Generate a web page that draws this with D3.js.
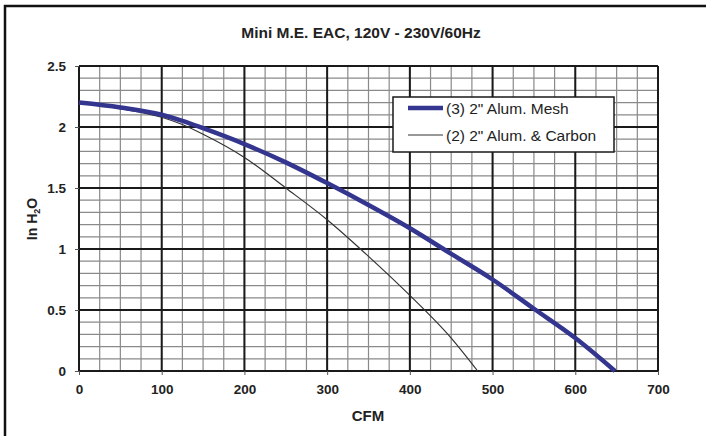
<!DOCTYPE html>
<html>
<head>
<meta charset="utf-8">
<script src="https://cdn.jsdelivr.net/npm/d3@7"></script>
<style>
  body { margin: 0; background: #fff; }
  svg { display: block; font-family: "Liberation Sans", Arial, sans-serif; }
</style>
</head>
<body>
<div id="chart"></div>
<script>
// Donnees
var titre = "Mini M.E. EAC, 120V - 230V/60Hz";
var nomsSeries = ["(3) 2\" Alum. Mesh", "(2) 2\" Alum. & Carbon"];
var cfmMesh   = [0, 50, 100, 125, 150, 200, 250, 300, 350, 400, 450, 500, 550, 600, 648];
var pressMesh = [2.2, 2.16, 2.1, 2.05, 1.99, 1.86, 1.71, 1.54, 1.36, 1.17, 0.96, 0.75, 0.51, 0.27, 0];
var cfmCarbon   = [0, 50, 100, 125, 150, 200, 250, 300, 350, 400, 450, 482];
var pressCarbon = [2.2, 2.15, 2.08, 2.02, 1.94, 1.75, 1.5, 1.24, 0.94, 0.62, 0.27, 0];
var xTicks = [0, 100, 200, 300, 400, 500, 600, 700];
var yTicks = [0, 0.5, 1, 1.5, 2, 2.5];

var W = 706, H = 436;
var margin = {top: 66, right: 48, bottom: 65, left: 79},
    width = W - margin.left - margin.right,
    height = H - margin.top - margin.bottom;

var svgRoot = d3.select("#chart")
  .append("svg")
    .attr("width", W)
    .attr("height", H);

// cadre exterieur
svgRoot.append("rect")
    .attr("x", 5).attr("y", 6)
    .attr("width", W + 10).attr("height", H + 10)
    .attr("fill", "none")
    .attr("stroke", "#111")
    .attr("stroke-width", 2.5);

svgRoot.append("text")
    .attr("x", 361).attr("y", 38)
    .attr("text-anchor", "middle")
    .style("font-weight", "bold")
    .style("font-size", "15.5px")
    .attr("fill", "#222")
    .text(titre);

var svg = svgRoot.append("g")
    .attr("transform", "translate(" + margin.left + "," + margin.top + ")");

var x = d3.scaleLinear().domain([0, 700]).range([0, width]);
var y = d3.scaleLinear().domain([0, 2.5]).range([height, 0]);

// grille mineure
svg.append("g")
  .selectAll("line")
  .data(d3.range(0, 701, 25))
  .enter().append("line")
    .attr("x1", d => x(d)).attr("x2", d => x(d))
    .attr("y1", 0).attr("y2", height)
    .attr("stroke", "#8a8a8a").attr("stroke-width", 1.2);
svg.append("g")
  .selectAll("line")
  .data(d3.range(0, 26).map(i => i / 10))
  .enter().append("line")
    .attr("x1", 0).attr("x2", width)
    .attr("y1", d => y(d)).attr("y2", d => y(d))
    .attr("stroke", "#8a8a8a").attr("stroke-width", 1.2);

// grille majeure
svg.append("g")
  .selectAll("line")
  .data(xTicks)
  .enter().append("line")
    .attr("x1", d => x(d)).attr("x2", d => x(d))
    .attr("y1", 0).attr("y2", height)
    .attr("stroke", "#1a1a1a").attr("stroke-width", 2);
svg.append("g")
  .selectAll("line")
  .data(yTicks)
  .enter().append("line")
    .attr("x1", 0).attr("x2", width)
    .attr("y1", d => y(d)).attr("y2", d => y(d))
    .attr("stroke", "#1a1a1a").attr("stroke-width", 2);

// axes
var axeX = svg.append("g")
    .attr("transform", "translate(0," + height + ")")
    .call(d3.axisBottom(x).tickValues(xTicks).tickSize(4).tickPadding(9).tickFormat(d3.format("d")));
var axeY = svg.append("g")
    .call(d3.axisLeft(y).tickValues(yTicks).tickSize(4).tickPadding(9).tickFormat(d => d));
[axeX, axeY].forEach(function(a) {
  a.select(".domain").remove();
  a.selectAll(".tick line").attr("stroke", "#555");
  a.selectAll("text")
    .style("font-family", "'Liberation Sans', Arial, sans-serif")
    .style("font-size", "13.5px")
    .style("font-weight", "bold")
    .attr("fill", "#222");
});

// titres des axes
svgRoot.append("text")
    .attr("x", 368).attr("y", 421)
    .attr("text-anchor", "middle")
    .style("font-weight", "bold").style("font-size", "15px")
    .attr("fill", "#222")
    .text("CFM");
var yLab = svgRoot.append("text")
    .attr("transform", "translate(37,219) rotate(-90)")
    .attr("text-anchor", "middle")
    .style("font-weight", "bold").style("font-size", "14px")
    .attr("fill", "#222");
yLab.append("tspan").text("In H");
yLab.append("tspan").text("2").style("font-size", "9px").attr("dy", 3);
yLab.append("tspan").text("O").attr("dy", -3);

// courbes
var ligne = d3.line()
    .x(d => x(d[0]))
    .y(d => y(d[1]))
    .curve(d3.curveMonotoneX);

svg.append("path")
    .datum(d3.zip(cfmCarbon, pressCarbon))
    .attr("d", ligne)
    .attr("fill", "none")
    .attr("stroke", "#333")
    .attr("stroke-width", 1.2);

svg.append("path")
    .datum(d3.zip(cfmMesh, pressMesh))
    .attr("d", ligne)
    .attr("fill", "none")
    .attr("stroke", "#33358f")
    .attr("stroke-width", 4.5);

// legende
var leg = svgRoot.append("g").attr("transform", "translate(393,97)");
leg.append("rect")
    .attr("width", 221).attr("height", 55)
    .attr("fill", "#fff").attr("stroke", "#1a1a1a").attr("stroke-width", 1.5);
var styles = [{c: "#33358f", w: 4.5}, {c: "#333", w: 1.2}];
nomsSeries.forEach(function(nom, i) {
  leg.append("line")
    .attr("x1", 15).attr("x2", 50)
    .attr("y1", 11 + i * 27).attr("y2", 11 + i * 27)
    .attr("stroke", styles[i].c).attr("stroke-width", styles[i].w);
  leg.append("text")
    .attr("x", 53).attr("y", 17 + i * 27)
    .style("font-size", "15.5px")
    .attr("fill", "#222")
    .text(nom);
});
</script>
</body>
</html>
